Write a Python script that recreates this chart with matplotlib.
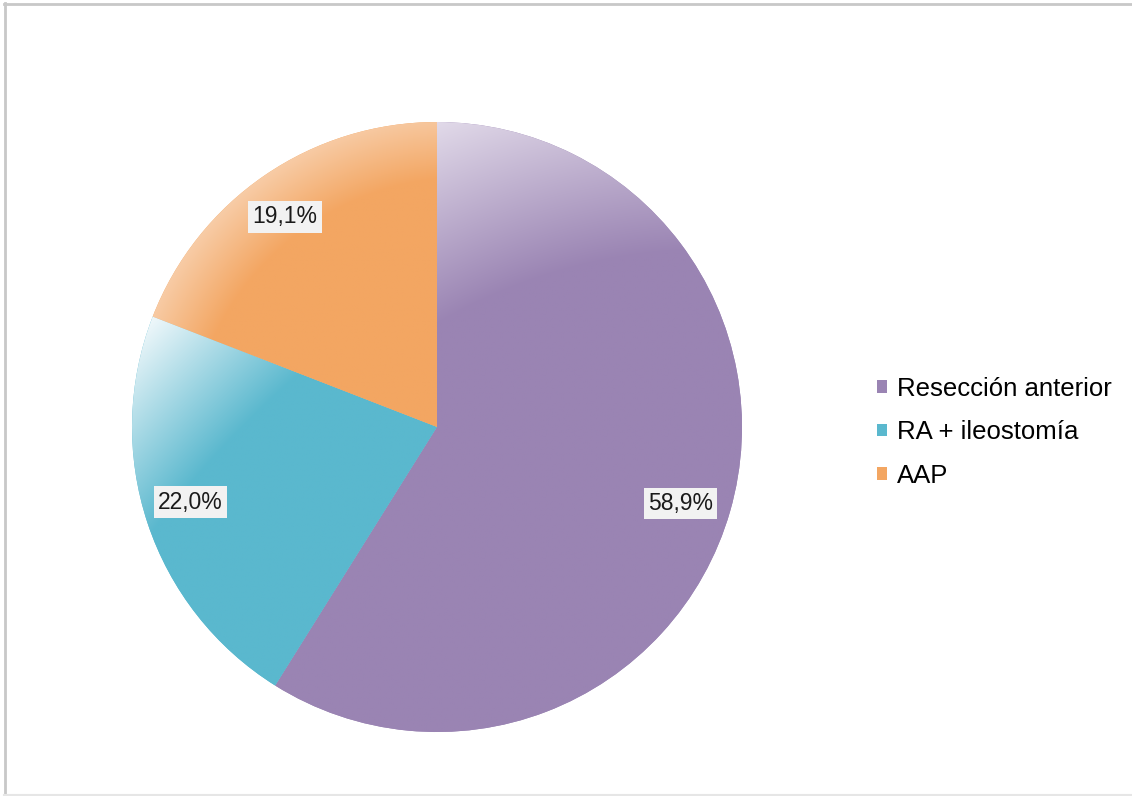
"""Pie chart: distribution of surgical procedures (Resección anterior / RA + ileostomía / AAP)."""

import matplotlib
matplotlib.use("Agg")
import matplotlib.pyplot as plt
import numpy as np
from matplotlib.colors import to_rgb
from matplotlib.lines import Line2D
from matplotlib.patches import Patch

plt.rcParams["font.family"] = ["Liberation Sans", "DejaVu Sans"]

# ---------------------------------------------------------------------------
# Data
# ---------------------------------------------------------------------------
labels = ["Resección anterior", "RA + ileostomía", "AAP"]
percentages = [58.9, 22.0, 19.1]

base_colors = ["#9a84b3", "#5ab8ce", "#f3a662"]
light_colors = ["#e4ddeb", "#eef7fa", "#f8cfac"]
# gradient per slice: (centre x, centre y, distance where base, distance where light)
gradients = [
    (0.9, -1.2, 1.78, 2.40),
    (1.8, -2.4, 3.42, 3.88),
    (0.1, -0.1, 0.92, 1.16),
]
# where the percentage boxes sit (pie radius = 1)
label_xy = [(0.798, -0.251), (-0.808, -0.246), (-0.498, 0.689)]

W, H = 1132, 796
fig = plt.figure(figsize=(W / 100, H / 100), dpi=100)
fig.patch.set_facecolor("white")

cx, cy, r = 437, 427, 305
ax = fig.add_axes([(cx - r) / W, (H - cy - r) / H, 2 * r / W, 2 * r / H])

wedges, _, autotexts = ax.pie(
    percentages,
    colors=base_colors,
    startangle=90,
    counterclock=False,
    radius=1,
    autopct=lambda p: f"{p:.1f}%".replace(".", ","),
    pctdistance=0.835,
    wedgeprops=dict(linewidth=0),
    textprops=dict(fontsize=16.5, color="#1a1a1a"),
)
ax.set_xlim(-1, 1)
ax.set_ylim(-1, 1)
ax.set_aspect("equal")
ax.axis("off")

# soft shading on each slice, clipped to the wedge
n = 500
xs = np.linspace(-1, 1, n)
gx, gy = np.meshgrid(xs, xs[::-1])
for wedge, base, light, (gcx, gcy, d0, d1) in zip(wedges, base_colors, light_colors, gradients):
    d = np.hypot(gx - gcx, gy - gcy)
    t = np.clip((d - d0) / (d1 - d0), 0, 1)[..., None]
    img = (1 - t) * np.array(to_rgb(base)) + t * np.array(to_rgb(light))
    im = ax.imshow(img, extent=(-1, 1, -1, 1), interpolation="bilinear", zorder=1.5)
    im.set_clip_path(wedge)

for txt, xy in zip(autotexts, label_xy):
    txt.set_position(xy)
    txt.set_zorder(5)
    txt.set_bbox(dict(facecolor="#f2f2f2", edgecolor="none", pad=3.2))

handles = [Patch(facecolor=c, edgecolor="none") for c in base_colors]
fig.legend(
    handles, labels,
    loc="upper left",
    bbox_to_anchor=(877 / W, 1 - 377 / H),
    frameon=False,
    fontsize=18.5,
    handlelength=0.38,
    handleheight=0.38,
    handletextpad=0.4,
    labelspacing=0.75,
    borderpad=0,
    borderaxespad=0,
)

# thin grey frame like the original export
fig.add_artist(Line2D([4 / W, 1], [1 - 3.5 / H] * 2, color="#c8c8c8", lw=2))
fig.add_artist(Line2D([4.5 / W] * 2, [0, 1 - 3 / H], color="#c8c8c8", lw=2))
fig.add_artist(Line2D([4 / W, 1], [1 / H] * 2, color="#e6e6e6", lw=1.5))

fig.savefig("out.png", dpi=100)
